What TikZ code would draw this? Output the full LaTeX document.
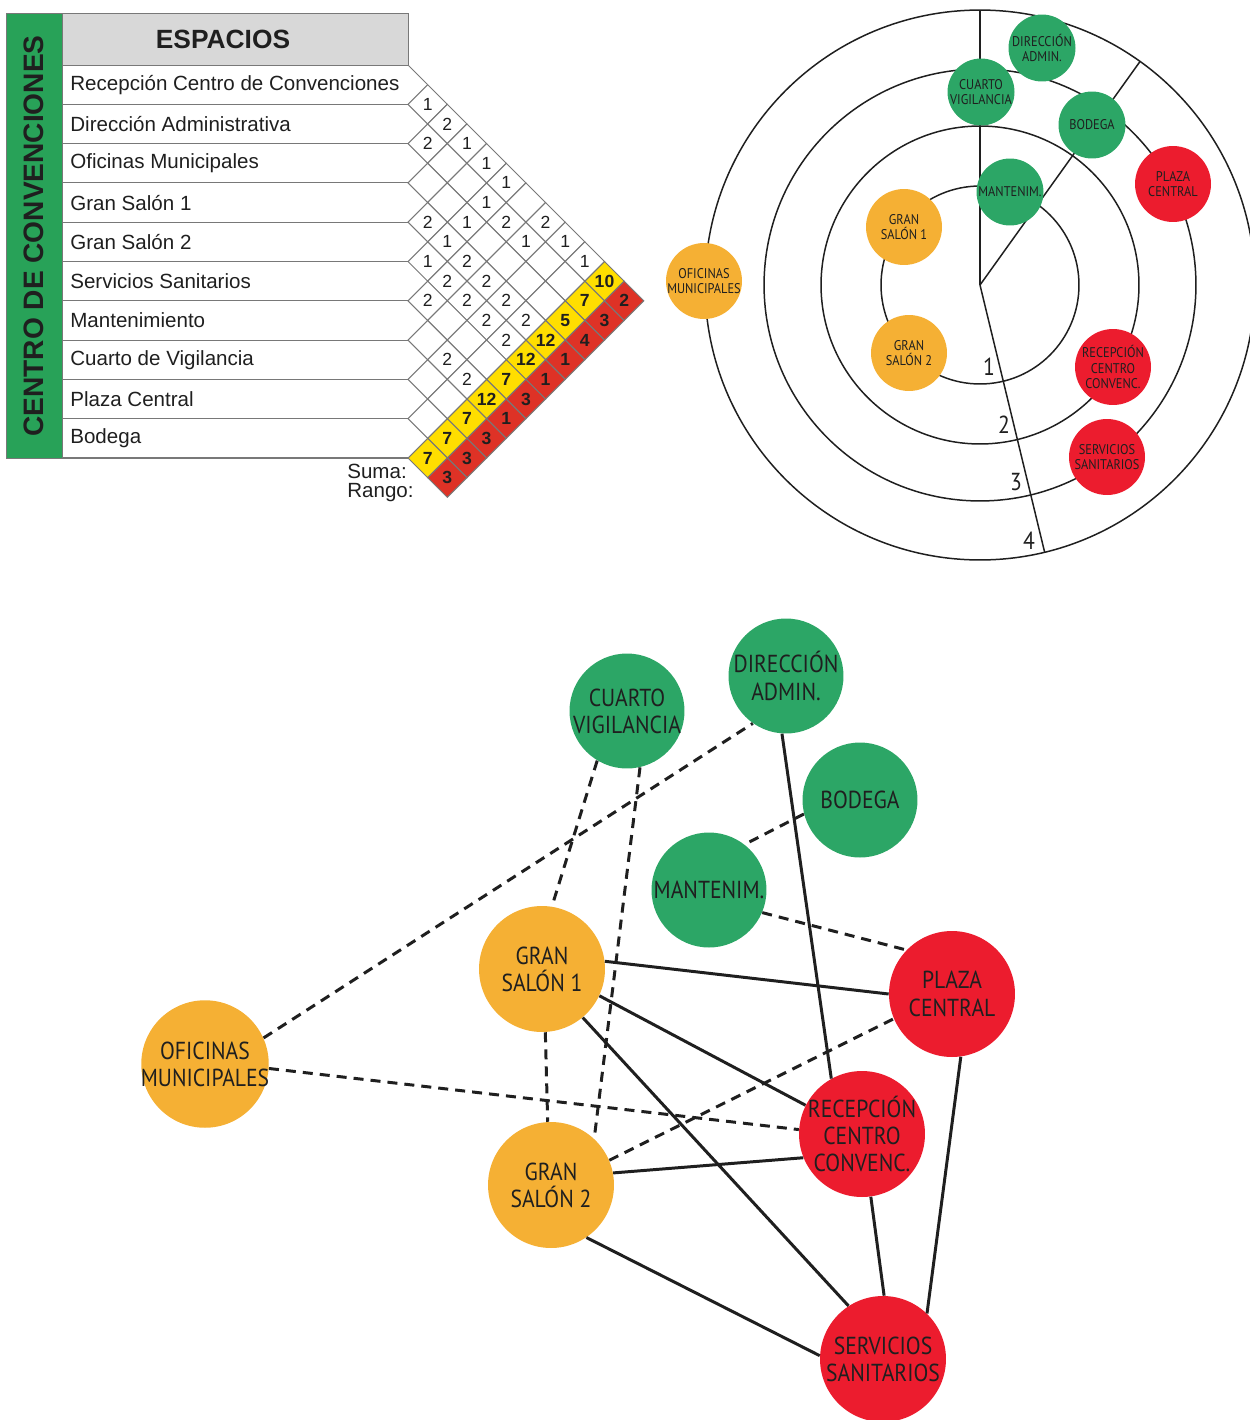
\documentclass[tikz,border=0pt]{standalone}
\usepackage{fontspec}
\setmainfont{Liberation Sans}
\newfontfamily\bubfont[FakeStretch=0.88]{PT Sans}
\definecolor{bargreen}{RGB}{40,162,88}
\definecolor{headgray}{RGB}{216,216,216}
\definecolor{linegray}{RGB}{120,120,120}
\definecolor{sumyellow}{RGB}{255,222,0}
\definecolor{rankred}{RGB}{222,50,38}
\definecolor{zonegreen}{RGB}{44,166,102}
\definecolor{zoneorange}{RGB}{245,176,52}
\definecolor{zonered}{RGB}{236,28,46}
\colorlet{ink}{black!88}
\usetikzlibrary{calc}

\begin{document}
\begin{tikzpicture}[x=0.02cm, y=-0.02cm,
    rowtext/.style={anchor=west, inner sep=0pt, text=ink, font=\fontsize{11.7}{14}\selectfont},
    cell/.style={draw=linegray, line width=0.6pt},
    val/.style={inner sep=0pt, text=ink, font=\fontsize{10}{12}\selectfont},
    bval/.style={inner sep=0pt, text=ink, font=\fontsize{10}{12}\selectfont\bfseries},
    ring/.style={draw=ink, line width=0.85pt},
    bub/.style={circle, inner sep=0pt, minimum size=1.52cm},
    bubtxt/.style={align=center, text=ink, inner sep=0pt, font=\bubfont\fontsize{8}{9}\selectfont},
    zone/.style={circle, inner sep=0pt, minimum size=2.52cm},
    zonetxt/.style={align=center, text=ink, inner sep=0pt, font=\bubfont\fontsize{14}{15.5}\selectfont},
    must/.style={draw=ink, line width=1.7pt},
    wish/.style={draw=ink, line width=1.7pt, dash pattern=on 5.7pt off 4pt},
  ]
  \useasboundingbox (0,0) rectangle (1250,1420);

  % matriz de relaciones
  \filldraw[fill=bargreen, draw=linegray] (6,13) rectangle (62,458);
  \node[rotate=90, text=ink, font=\fontsize{16}{18}\selectfont\bfseries] (title) at (34,236) {CENTRO DE CONVENCIONES};
  \filldraw[fill=headgray, draw=linegray] (62,13) rectangle (408,65);
  \node[text=ink, font=\fontsize{15}{18}\selectfont\bfseries] (head) at (223,39) {ESPACIOS};
  \foreach \k in {1,...,10}
    \draw[linegray, line width=0.6pt] (62,{65+39.3*\k}) -- (408,{65+39.3*\k});
  \foreach \name [count=\i] in {Recepción Centro de Convenciones, Dirección Administrativa,
      Oficinas Municipales, Gran Salón 1, Gran Salón 2, Servicios Sanitarios,
      Mantenimiento, Cuarto de Vigilancia, Plaza Central, Bodega}
    \node[rowtext] (row\i) at (70,{84.65+39.3*(\i-1)}) {\name};

  \draw[cell] (408,65) -- (427.65,84.65);
  \foreach \i in {1,...,10}{
    \pgfmathtruncatemacro\jo{\i+1}
    \foreach \j in {\jo,...,12}{
      \pgfmathsetmacro\cx{408+19.65*(\j-\i)}
      \pgfmathsetmacro\cy{84.65+39.3*(\i-1)+19.65*(\j-\i)}
      \ifnum\j=11 \def\cf{sumyellow}\else\ifnum\j=12 \def\cf{rankred}\else\def\cf{white}\fi\fi
      \filldraw[cell, fill=\cf] (\cx-19.65,\cy) -- (\cx,\cy-19.65) -- (\cx+19.65,\cy) -- (\cx,\cy+19.65) -- cycle;
    }
  }
  \foreach \i/\j/\v in {1/2/1, 1/3/2, 2/3/2, 1/4/1, 1/5/1, 1/6/1, 2/6/1, 4/5/2, 3/6/1,
      2/7/2, 1/8/2, 4/6/1, 2/8/1, 1/9/1, 5/6/1, 4/7/2, 1/10/1, 5/7/2, 4/8/2, 6/7/2,
      5/8/2, 4/9/2, 5/9/2, 4/10/2, 5/10/2, 7/9/2, 7/10/2}
    \node[val] (m-\i-\j) at ({408+19.65*(\j-\i)},{84.65+39.3*(\i-1)+19.65*(\j-\i)}) {\v};
  \foreach \i/\v in {1/10, 2/7, 3/5, 4/12, 5/12, 6/7, 7/12, 8/7, 9/7, 10/7}
    \node[bval] (sum-\i) at ({408+19.65*(11-\i)},{84.65+39.3*(\i-1)+19.65*(11-\i)}) {\v};
  \foreach \i/\v in {1/2, 2/3, 3/4, 4/1, 5/1, 6/3, 7/1, 8/3, 9/3, 10/3}
    \node[bval] (rank-\i) at ({408+19.65*(12-\i)},{84.65+39.3*(\i-1)+19.65*(12-\i)}) {\v};
  \node[rowtext] (suma) at (347,471) {Suma:};
  \node[rowtext] (rango) at (347,493) {Rango:};

  % diagrama de anillos
  \coordinate (ctr) at (980,285);
  \foreach \r in {1.98,3.18,4.32,5.5}
    \draw[ring] (ctr) circle[radius=\r cm];
  \draw[ring] (ctr) -- ++(90:5.5cm);
  \draw[ring] (ctr) -- ++(54.4:5.5cm);
  \draw[ring] (ctr) -- ++(-76.4:5.5cm);
  \foreach \t/\x/\y in {1/989/367, 2/1004/425, 3/1016/482, 4/1029/541}
    \node[text=ink, font=\bubfont\fontsize{14}{16}\selectfont] (lvl\t) at (\x,\y) {\t};

  \node[bub, fill=zoneorange, label={[bubtxt]center:{OFICINAS\\MUNICIPALES}}] (b-om) at (704,281) {};
  \node[bub, fill=zoneorange, label={[bubtxt]center:{GRAN\\SALÓN 1}}] (b-gs1) at (904,227) {};
  \node[bub, fill=zoneorange, label={[bubtxt]center:{GRAN\\SALÓN 2}}] (b-gs2) at (909,353) {};
  \node[bub, fill=zonegreen, minimum size=1.34cm, label={[bubtxt]center:{MANTENIM.}}] (b-mt) at (1010,192) {};
  \node[bub, fill=zonegreen, minimum size=1.34cm, label={[bubtxt]center:{CUARTO\\VIGILANCIA}}] (b-cv) at (981,92) {};
  \node[bub, fill=zonegreen, minimum size=1.34cm, label={[bubtxt]center:{DIRECCIÓN\\ADMIN.}}] (b-da) at (1042,48) {};
  \node[bub, fill=zonegreen, minimum size=1.34cm, label={[bubtxt]center:{BODEGA}}] (b-bo) at (1092,125) {};
  \node[bub, fill=zonered, label={[bubtxt]center:{PLAZA\\CENTRAL}}] (b-pc) at (1173,184) {};
  \node[bub, fill=zonered, label={[bubtxt]center:{RECEPCIÓN\\CENTRO\\CONVENC.}}] (b-rc) at (1113,367) {};
  \node[bub, fill=zonered, label={[bubtxt]center:{SERVICIOS\\SANITARIOS}}] (b-ss) at (1107,457) {};

  % diagrama de relaciones
  \node[zone, fill=zonegreen, minimum size=2.3cm, label={[zonetxt]center:{CUARTO\\VIGILANCIA}}] (cv) at (627,711) {};
  \node[zone, fill=zonegreen, minimum size=2.3cm, label={[zonetxt]center:{DIRECCIÓN\\ADMIN.}}] (da) at (786,676) {};
  \node[zone, fill=zonegreen, minimum size=2.3cm, label={[zonetxt]center:{BODEGA}}] (bo) at (860,800) {};
  \node[zone, fill=zonegreen, minimum size=2.3cm, label={[zonetxt]center:{MANTENIM.}}] (mt) at (709,890) {};
  \node[zone, fill=zoneorange, label={[zonetxt]center:{GRAN\\SALÓN 1}}] (gs1) at (542,969) {};
  \node[zone, fill=zoneorange, label={[zonetxt]center:{GRAN\\SALÓN 2}}] (gs2) at (551,1185) {};
  \node[zone, fill=zoneorange, minimum size=2.55cm, label={[zonetxt]center:{OFICINAS\\MUNICIPALES}}] (om) at (205,1064) {};
  \node[zone, fill=zonered, label={[zonetxt]center:{PLAZA\\CENTRAL}}] (pc) at (952,994) {};
  \node[zone, fill=zonered, label={[zonetxt]center:{RECEPCIÓN\\CENTRO\\CONVENC.}}] (rc) at (862,1134) {};
  \node[zone, fill=zonered, label={[zonetxt]center:{SERVICIOS\\SANITARIOS}}] (ss) at (883,1359) {};

  \draw[must] (da.266) -- (rc.119);
  \draw[must] (gs1.7) -- (pc.180);
  \draw[must] (gs1.-25) -- (rc.153);
  \draw[must] (gs1.-50) -- (ss.123);
  \draw[must] (gs2.11) -- (rc.202);
  \draw[must] (gs2.-56) -- (ss.177);
  \draw[must] (rc.-82) -- (ss.89);
  \draw[must] (pc.-82) -- (ss.46);

  \draw[wish] (om.24) -- (da.235);
  \draw[wish] (om.-4) -- (rc.176);
  \draw[wish] (cv.239) -- (gs1.81);
  \draw[wish] (cv.283) -- (gs2.47);
  \draw[wish] (bo.194) -- (mt.52);
  \draw[wish] (mt.-23) -- (pc.136);
  \draw[wish] (gs1.-87) -- (gs2.93);
  \draw[wish] (gs2.23) -- (pc.203);
\end{tikzpicture}
\end{document}
